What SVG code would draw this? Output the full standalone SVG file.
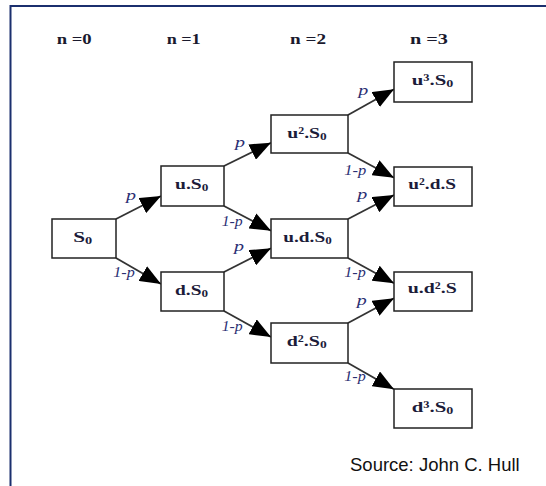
<svg xmlns="http://www.w3.org/2000/svg" width="546" height="486" viewBox="0 0 546 486">
  <style>
    .frame { fill: none; stroke: #1b2f6e; stroke-width: 2; }
    .box { fill: #ffffff; stroke: #222222; stroke-width: 1.5; }
    .edge { fill: none; stroke: #333333; stroke-width: 1.8; marker-end: url(#head); }
    .hdr { font-family: "Liberation Serif", "Times New Roman", serif; font-size: 15px; font-weight: bold; fill: #1a1a2e; }
    .val { font-family: "Liberation Serif", "Times New Roman", serif; font-size: 15.5px; font-weight: bold; fill: #1c1c3a; }
    .sub { font-size: 10.5px; }
    .prob { font-family: "Liberation Serif", "Times New Roman", serif; font-size: 15px; font-style: italic; fill: #2b2f73; }
    .src { font-family: "Liberation Sans", Arial, sans-serif; font-size: 18.5px; fill: #111111; }
  </style>
  <defs>
    <marker id="head" markerUnits="userSpaceOnUse" viewBox="0 0 21 17" markerWidth="21" markerHeight="17" refX="21" refY="8.5" orient="auto">
      <path d="M0,0 L21,8.5 L0,17 z" fill="#000000"/>
    </marker>
  </defs>

  <!-- outer frame (top and left edges) -->
  <path class="frame" d="M10.5,486 L10.5,6 L546,6"/>

  <!-- step headers -->
  <g id="headers">
    <text class="hdr" x="56.7" y="44" textLength="35" lengthAdjust="spacingAndGlyphs">n =0</text>
    <text class="hdr" x="166.7" y="44" textLength="34" lengthAdjust="spacingAndGlyphs">n =1</text>
    <text class="hdr" x="290" y="44" textLength="36" lengthAdjust="spacingAndGlyphs">n =2</text>
    <text class="hdr" x="410" y="44" textLength="38" lengthAdjust="spacingAndGlyphs">n =3</text>
  </g>

  <!-- connectors with probability labels -->
  <g id="connectors">
    <line class="edge" x1="116" y1="219" x2="161" y2="196"/>
    <line class="edge" x1="116" y1="258" x2="161" y2="284"/>
    <line class="edge" x1="224" y1="166" x2="271" y2="142.7"/>
    <line class="edge" x1="224" y1="206" x2="271" y2="230.7"/>
    <line class="edge" x1="224" y1="272" x2="271" y2="248.3"/>
    <line class="edge" x1="224" y1="311" x2="271" y2="337"/>
    <line class="edge" x1="348" y1="115" x2="394" y2="89.3"/>
    <line class="edge" x1="348" y1="153" x2="394" y2="177.7"/>
    <line class="edge" x1="348" y1="219" x2="394" y2="195"/>
    <line class="edge" x1="348" y1="258" x2="394" y2="283.3"/>
    <line class="edge" x1="348" y1="323" x2="394" y2="298.3"/>
    <line class="edge" x1="348" y1="363" x2="394" y2="389.3"/>

    <text class="prob" x="126" y="200" textLength="10" lengthAdjust="spacingAndGlyphs">p</text>
    <text class="prob" x="113.3" y="277.3" textLength="21.5" lengthAdjust="spacingAndGlyphs">1-p</text>
    <text class="prob" x="235" y="146.7" textLength="10" lengthAdjust="spacingAndGlyphs">p</text>
    <text class="prob" x="221.7" y="226" textLength="21" lengthAdjust="spacingAndGlyphs">1-p</text>
    <text class="prob" x="234" y="250.7" textLength="10" lengthAdjust="spacingAndGlyphs">p</text>
    <text class="prob" x="221.7" y="330.7" textLength="21" lengthAdjust="spacingAndGlyphs">1-p</text>
    <text class="prob" x="358.3" y="95" textLength="10" lengthAdjust="spacingAndGlyphs">p</text>
    <text class="prob" x="344.3" y="175" textLength="22" lengthAdjust="spacingAndGlyphs">1-p</text>
    <text class="prob" x="357.3" y="199.3" textLength="10" lengthAdjust="spacingAndGlyphs">p</text>
    <text class="prob" x="344.3" y="277.3" textLength="21.5" lengthAdjust="spacingAndGlyphs">1-p</text>
    <text class="prob" x="356.7" y="305" textLength="10" lengthAdjust="spacingAndGlyphs">p</text>
    <text class="prob" x="344.3" y="380.7" textLength="21.5" lengthAdjust="spacingAndGlyphs">1-p</text>
  </g>

  <!-- lattice nodes -->
  <g id="node-s0">
    <rect class="box" x="52" y="219" width="64" height="39"/>
    <text class="val" x="73.3" y="241.5" textLength="19" lengthAdjust="spacingAndGlyphs">S<tspan class="sub" dy="2">0</tspan></text>
  </g>
  <g id="node-us0">
    <rect class="box" x="161" y="166" width="63" height="40"/>
    <text class="val" x="175" y="189" textLength="33.3" lengthAdjust="spacingAndGlyphs">u.S<tspan class="sub" dy="2">0</tspan></text>
  </g>
  <g id="node-ds0">
    <rect class="box" x="161" y="272" width="63" height="39"/>
    <text class="val" x="175" y="294.5" textLength="33" lengthAdjust="spacingAndGlyphs">d.S<tspan class="sub" dy="2">0</tspan></text>
  </g>
  <g id="node-u2s0">
    <rect class="box" x="271" y="115" width="77" height="38"/>
    <text class="val" x="287.3" y="137.5" textLength="39.4" lengthAdjust="spacingAndGlyphs">u².S<tspan class="sub" dy="2">0</tspan></text>
  </g>
  <g id="node-uds0">
    <rect class="box" x="271" y="219" width="77" height="39"/>
    <text class="val" x="283.3" y="241.5" textLength="48.4" lengthAdjust="spacingAndGlyphs">u.d.S<tspan class="sub" dy="2">0</tspan></text>
  </g>
  <g id="node-d2s0">
    <rect class="box" x="271" y="323" width="77" height="40"/>
    <text class="val" x="286.7" y="345.5" textLength="40" lengthAdjust="spacingAndGlyphs">d².S<tspan class="sub" dy="2">0</tspan></text>
  </g>
  <g id="node-u3s0">
    <rect class="box" x="394" y="62" width="78" height="40"/>
    <text class="val" x="411.7" y="84.5" textLength="41.6" lengthAdjust="spacingAndGlyphs">u³.S<tspan class="sub" dy="2">0</tspan></text>
  </g>
  <g id="node-u2ds">
    <rect class="box" x="394" y="167" width="78" height="39"/>
    <text class="val" x="408.3" y="189" textLength="47.7" lengthAdjust="spacingAndGlyphs">u².d.S</text>
  </g>
  <g id="node-ud2s">
    <rect class="box" x="394" y="272" width="78" height="39"/>
    <text class="val" x="407.7" y="293" textLength="49" lengthAdjust="spacingAndGlyphs">u.d².S</text>
  </g>
  <g id="node-d3s0">
    <rect class="box" x="394" y="389" width="78" height="39"/>
    <text class="val" x="411.7" y="411.5" textLength="41.6" lengthAdjust="spacingAndGlyphs">d³.S<tspan class="sub" dy="2">0</tspan></text>
  </g>

  <text class="src" x="350" y="470.5">Source: John C. Hull</text>
</svg>
